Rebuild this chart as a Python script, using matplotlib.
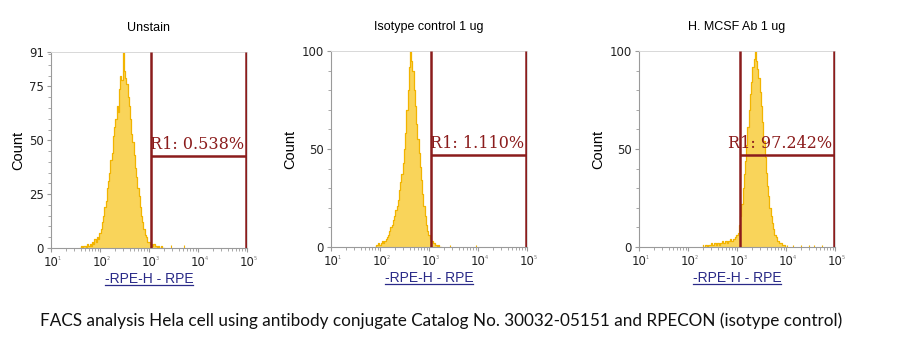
"""
FACS histograms: Hela cells stained with RPE conjugated antibody
Three panels (unstained, isotype control, H. MCSF Ab) with R1 gate
"""

import numpy as np
import matplotlib
matplotlib.use("Agg")
import matplotlib.pyplot as plt
from matplotlib.lines import Line2D
from matplotlib.ticker import FixedLocator, MultipleLocator, NullFormatter

# ========================================================================
# Data (log10 channel start, step 0.025 decade)
# ========================================================================

titles = ["Unstain", "Isotype control 1 ug", "H. MCSF Ab 1 ug"]
gate_labels = ["R1: 0.538%", "R1: 1.110%", "R1: 97.242%"]
y_max = [91, 100, 100]
y_ticks = [[0, 25, 50, 75, 91], [0, 50, 100], [0, 50, 100]]
gate_left_log = [3.04, 3.04, 3.06]
gate_right_log = [4.98, 4.98, 4.98]
gate_height = [42.7, 47.0, 47.0]

log_step = 0.025

unstain_start = 1.60
unstain_counts = [
    0, 1, 0, 1, 1, 0, 2, 1, 2, 1, 3, 2, 4, 3, 5, 4,
    7, 9, 12, 15, 19, 22, 28, 31, 35, 41, 44, 52, 56, 60, 66, 63,
    74, 80, 78, 91, 82, 79, 76, 70, 66, 60, 53, 49, 43, 37, 33, 28,
    24, 19, 15, 12, 9, 6, 5, 3, 3, 2, 2, 1, 2, 1, 1, 0,
    1, 0, 1, 0, 0,
]
unstain_sparse_log = [3.45, 3.72]

isotype_start = 1.90
isotype_counts = [
    0, 1, 1, 2, 1, 2, 3, 2, 3, 4, 5, 6, 8, 10, 11, 14,
    16, 19, 21, 24, 29, 33, 37, 43, 50, 58, 70, 80, 92, 100, 95, 90,
    80, 72, 63, 55, 48, 41, 34, 27, 21, 16, 11, 8, 6, 4, 3, 3,
    2, 1, 1, 0, 1, 0, 0,
]
isotype_sparse_log = [3.42, 3.95]

mcsf_start = 2.30
mcsf_counts = [
    1, 0, 1, 1, 0, 1, 1, 2, 1, 1, 2, 1, 2, 2, 1, 2,
    3, 2, 2, 3, 2, 3, 3, 4, 3, 4, 4, 5, 6, 7, 11, 16,
    22, 30, 37, 44, 52, 61, 70, 78, 84, 92, 96, 100, 95, 91, 86, 79,
    72, 64, 54, 46, 38, 31, 26, 20, 16, 12, 9, 6, 5, 3, 3, 2,
    2, 1, 1, 1, 0,
]
mcsf_sparse_log = [4.02, 4.15, 4.31, 4.47, 4.58, 4.74]

hist_starts = [unstain_start, isotype_start, mcsf_start]
hist_counts = [unstain_counts, isotype_counts, mcsf_counts]
sparse_events = [unstain_sparse_log, isotype_sparse_log, mcsf_sparse_log]

caption = ("FACS analysis Hela cell using antibody conjugate Catalog No. "
           "30032-05151 and RPECON (isotype control)")

# colours
HIST_FILL = "#F9D45A"
HIST_EDGE = "#F2B400"
GATE_COLOR = "#8B1C1C"
AXIS_COLOR = "#9a9a9a"
XLABEL_COLOR = "#2a2a88"

# axes positions in pixels (left, top) on a 923x355 canvas
panel_left_px = [51, 331, 639]
panel_top_px = [52, 51, 51]
panel_size_px = 196


def draw_panel(ax, idx):
    """Draw one FACS histogram panel with its R1 gate."""
    start = hist_starts[idx]
    counts = np.array(hist_counts[idx], dtype=float)
    lx = start + log_step * np.arange(len(counts))
    x = 10 ** lx

    ax.fill_between(x, counts, step="mid", color=HIST_FILL, lw=0)
    ax.step(x, counts, where="mid", color=HIST_EDGE, lw=0.9)

    # isolated single events far out in the tail
    for s in sparse_events[idx]:
        ax.vlines(10 ** s, 0, 1.2, color=HIST_EDGE, lw=0.8)

    # R1 gate
    gl = 10 ** gate_left_log[idx]
    gr = 10 ** gate_right_log[idx]
    gh = gate_height[idx]
    ax.vlines([gl, gr], 0, y_max[idx], color=GATE_COLOR, lw=1.8, zorder=4)
    ax.hlines(gh, gl, gr, color=GATE_COLOR, lw=1.8, zorder=4)
    ax.text(gr * 0.93, gh + y_max[idx] * 0.015, gate_labels[idx],
            ha="right", va="bottom", color=GATE_COLOR,
            fontsize=11.5, family="DejaVu Serif", zorder=5)

    # axes style
    ax.set_xscale("log")
    ax.set_xlim(10, 10 ** 5)
    ax.set_ylim(0, y_max[idx])
    for side in ["left", "bottom"]:
        ax.spines[side].set_color(AXIS_COLOR)
    for side in ["top", "right"]:
        ax.spines[side].set_color("#d8d8d8")
        ax.spines[side].set_linewidth(0.7)

    ax.yaxis.set_major_locator(FixedLocator(y_ticks[idx]))
    ax.yaxis.set_minor_locator(MultipleLocator(5 if y_max[idx] < 100 else 10))
    ax.tick_params(axis="y", which="major", length=3, width=0.8,
                   color=AXIS_COLOR, labelsize=8.5, pad=2, labelcolor="#222222")
    ax.tick_params(axis="y", which="minor", length=2, width=0.6, color=AXIS_COLOR)

    decades = [1, 2, 3, 4, 5]
    ax.xaxis.set_major_locator(FixedLocator([10 ** d for d in decades]))
    ax.set_xticklabels(["10"] * len(decades))
    ax.xaxis.set_minor_formatter(NullFormatter())
    ax.tick_params(axis="x", which="major", length=3, width=0.8,
                   color=AXIS_COLOR, labelsize=8.5, pad=3, labelcolor="#222222")
    ax.tick_params(axis="x", which="minor", length=2, width=0.6, color=AXIS_COLOR)
    for d in decades:
        ax.annotate(str(d), xy=(10 ** d, 0), xycoords=("data", "axes fraction"),
                    xytext=(6, -6), textcoords="offset points",
                    fontsize=3.5, color="#777777", ha="center", va="top")

    ax.set_title(titles[idx], fontsize=9, family="Liberation Sans", pad=15)
    ax.set_ylabel("Count", fontsize=10.5, family="Liberation Sans", labelpad=3)
    ax.set_xlabel("-RPE-H - RPE", fontsize=10, family="Liberation Sans",
                  color=XLABEL_COLOR, labelpad=2)


def underline_xlabels(fig, axes):
    """Draw a thin underline below each x label (as in the FCS software)."""
    fig.canvas.draw()
    renderer = fig.canvas.get_renderer()
    inv = fig.transFigure.inverted()
    for ax in axes:
        bb = ax.xaxis.label.get_window_extent(renderer)
        (x0, y0), (x1, _) = inv.transform([[bb.x0, bb.y0 + 1.5], [bb.x1, bb.y0]])
        fig.add_artist(Line2D([x0, x1], [y0, y0], transform=fig.transFigure,
                              color=XLABEL_COLOR, lw=0.9))


if __name__ == "__main__":
    W, H = 923, 355
    fig = plt.figure(figsize=(W / 100, H / 100), dpi=100)

    axes = []
    for i in range(3):
        left = panel_left_px[i] / W
        bottom = (H - panel_top_px[i] - panel_size_px) / H
        ax = fig.add_axes([left, bottom, panel_size_px / W, panel_size_px / H])
        draw_panel(ax, i)
        axes.append(ax)

    fig.text(441 / W, 1 - 321 / H, caption, ha="center", va="center",
             fontsize=12.3, family="Lato", color="#111111")

    underline_xlabels(fig, axes)

    fig.savefig("out.png", dpi=100)
